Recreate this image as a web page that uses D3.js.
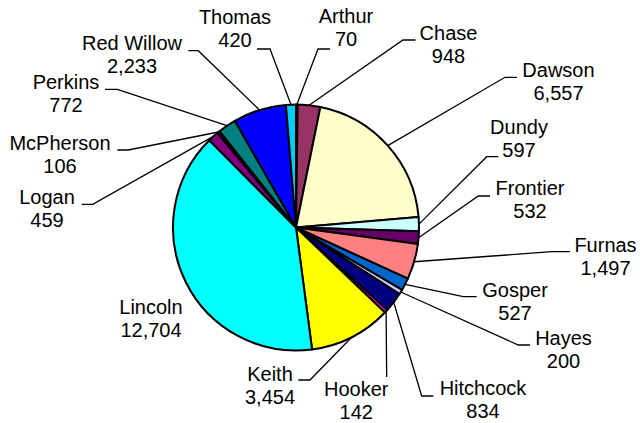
<!DOCTYPE html>
<html>
<head>
<meta charset="utf-8">
<script src="https://cdn.jsdelivr.net/npm/d3@7"></script>
<style>
  html, body { margin: 0; padding: 0; background: #fff; }
  svg { display: block; }
  text { font-family: "Liberation Sans", Arial, sans-serif; font-size: 20px; fill: #000; }
</style>
</head>
<body>
<svg id="chart" width="640" height="423"></svg>
<script>
// ---- data ----
const counties = ["Arthur","Chase","Dawson","Dundy","Frontier","Furnas","Gosper","Hayes","Hitchcock","Hooker","Keith","Lincoln","Logan","McPherson","Perkins","Red Willow","Thomas"];
const values = [70, 948, 6557, 597, 532, 1497, 527, 200, 834, 142, 3454, 12704, 459, 106, 772, 2233, 420];
const colors = ["#9999FF","#993366","#FFFFCC","#CCFFFF","#660066","#FF8080","#0066CC","#CCCCFF","#000080","#FF00FF","#FFFF00","#00FFFF","#800080","#800000","#008080","#0000FF","#00CCFF"];

// ---- label layout (text centre x, first baseline y, leader stub x1,y1 -> x2,y2) ----
const labelLayout = [
  {tx: 346,   ty: 23,    stub: [330, 49, 318, 49]},
  {tx: 448.5, ty: 40,    stub: [415.5, 40, 403, 40]},
  {tx: 558.5, ty: 77,    stub: [517, 77.3, 505, 77.3]},
  {tx: 519,   ty: 133.5, stub: [498.3, 156.7, 486.7, 156.7]},
  {tx: 530,   ty: 195,   stub: [490, 196, 478.3, 196]},
  {tx: 605.5, ty: 252,   stub: [570, 251.7, 552, 251.7]},
  {tx: 515,   ty: 297,   stub: [476.7, 296.7, 463.3, 296.7]},
  {tx: 563.5, ty: 345,   stub: [530, 345, 518.3, 345]},
  {tx: 483,   ty: 395,   stub: [433.3, 396, 421.7, 396]},
  {tx: 356.3, ty: 396,   stub: [386.7, 377, 386.7, 377]},
  {tx: 270,   ty: 380.5, stub: [298.3, 380, 310, 380]},
  {tx: 151,   ty: 313.5, stub: null},
  {tx: 47,    ty: 204.3, stub: [81.7, 204.3, 92.7, 204.3]},
  {tx: 60,    ty: 149.5, stub: [117.3, 150, 128.3, 150]},
  {tx: 66,    ty: 89.3,  stub: [105, 89.3, 117.3, 89.3]},
  {tx: 132,   ty: 49.5,  stub: [188.3, 50.7, 198.3, 50.7]},
  {tx: 235,   ty: 24,    stub: [257, 49, 270, 49]}
];

const cx = 296, cy = 227.5, r = 123;
const lineGap = 23;
const fmt = d3.format(",");

const svg = d3.select("#chart");
svg.append("rect").attr("width", 640).attr("height", 423).attr("fill", "#fff");

const data = counties.map((c, i) => ({name: c, value: values[i], color: colors[i], layout: labelLayout[i]}));

const pie = d3.pie().value(d => d.value).sort(null).startAngle(0).endAngle(2 * Math.PI);
const arcs = pie(data);
const arc = d3.arc().innerRadius(0).outerRadius(r);

const g = svg.append("g").attr("transform", `translate(${cx},${cy})`);
g.selectAll("path.slice")
  .data(arcs)
  .join("path")
  .attr("class", "slice")
  .attr("d", arc)
  .attr("fill", d => d.data.color)
  .attr("stroke", "#000")
  .attr("stroke-width", 2)
  .attr("stroke-linejoin", "round");

// leader lines
const leaders = svg.append("g");
arcs.forEach(a => {
  const L = a.data.layout;
  if (!L.stub) return;
  const mid = (a.startAngle + a.endAngle) / 2;
  const px = cx + r * Math.sin(mid);
  const py = cy - r * Math.cos(mid);
  const pts = [[L.stub[0], L.stub[1]], [L.stub[2], L.stub[3]], [px, py]];
  leaders.append("path")
    .attr("d", d3.line()(pts))
    .attr("fill", "none")
    .attr("stroke", "#000")
    .attr("stroke-width", 1.3);
});

// labels
const labels = svg.append("g");
arcs.forEach(a => {
  const L = a.data.layout;
  const t = labels.append("text").attr("text-anchor", "middle");
  t.append("tspan").attr("x", L.tx).attr("y", L.ty).text(a.data.name);
  t.append("tspan").attr("x", L.tx).attr("y", L.ty + lineGap).text(fmt(a.data.value));
});
</script>
</body>
</html>
